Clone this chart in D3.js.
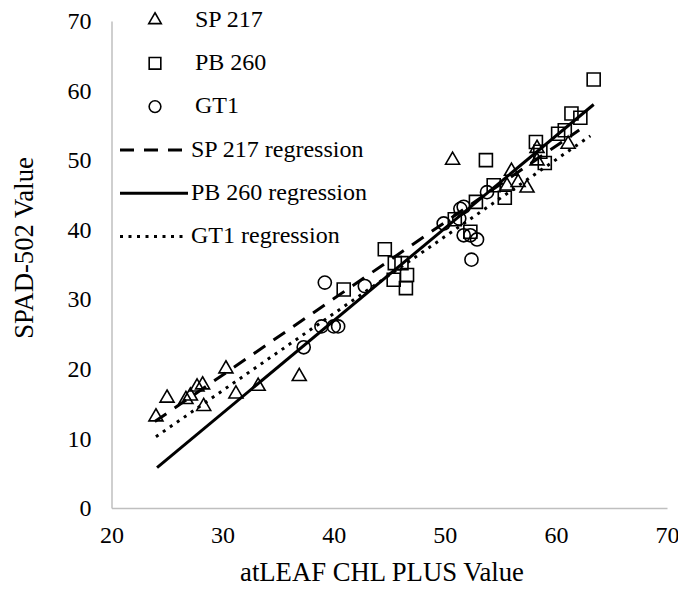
<!DOCTYPE html>
<html>
<head>
<meta charset="utf-8">
<script src="https://cdn.jsdelivr.net/npm/d3@7"></script>
<style>
	body { margin: 0; background: #fff; }
	svg, svg text { font-family: "Liberation Serif", "Times New Roman", Tinos, "DejaVu Serif", serif !important; }
	svg { display: block; }
</style>
</head>
<body>
<div id="chart"><svg width="678" height="596"></svg></div>
<script>
// atLEAF vs SPAD readings, one array of [x, y] per clone
var sp217 = [
	[24.0, 13.1], [25.0, 15.8], [26.7, 15.6], [27.1, 16.1], [27.7, 17.4],
	[28.2, 17.7], [28.3, 14.6], [30.3, 20.0], [31.2, 16.4], [33.2, 17.5],
	[36.9, 18.9], [50.7, 50.0], [55.6, 46.3], [56.0, 48.4], [56.6, 46.8],
	[57.4, 46.0], [58.3, 51.7], [58.3, 49.9], [61.1, 52.3]
];
var pb260 = [
	[40.9, 31.4], [44.6, 37.2], [45.4, 32.8], [45.5, 35.2], [46.1, 35.2],
	[46.6, 33.5], [46.5, 31.6], [52.3, 39.7], [50.9, 41.5], [52.8, 44.0],
	[53.7, 50.0], [54.4, 46.4], [55.4, 44.6], [58.2, 52.6], [58.6, 51.2],
	[59.0, 49.6], [60.2, 53.8], [60.8, 54.3], [61.4, 56.7], [62.2, 56.1],
	[63.4, 61.6]
];
var gt1 = [
	[37.3, 23.1], [38.9, 26.1], [40.0, 26.1], [40.4, 26.1], [39.2, 32.4],
	[42.8, 31.9], [49.9, 40.9], [51.4, 43.0], [51.7, 43.3], [51.7, 39.2],
	[52.3, 39.2], [52.9, 38.6], [52.4, 35.7], [53.8, 45.4], [51.3, 41.6]
];

// fitted lines
var regNames = ['SP 217 regression', 'PB 260 regression', 'GT1 regression'];
var regSlope = [1.097, 1.328, 1.106];
var regIntercept = [-13.8, -26.2, -16.3];
var regXMin = [23.9, 24.1, 24.0];
var regXMax = [62.1, 63.4, 63.1];
var regDash = ['14 10', null, '3 5.5'];

var seriesNames = ['SP 217', 'PB 260', 'GT1'];
var xTicks = [20, 30, 40, 50, 60, 70];
var yTicks = [0, 10, 20, 30, 40, 50, 60, 70];

var svg = d3.select('#chart > svg');
var xScale = d3.scaleLinear().domain([20, 70]).range([111.5, 667]);
var yScale = d3.scaleLinear().domain([0, 70]).range([508, 21]);

// axes
var xAxis = svg.append('g')
	.attr('class', 'x axis')
	.attr('transform', 'translate(0,' + yScale(0) + ')')
	.call(d3.axisBottom(xScale).tickValues(xTicks).tickSize(0).tickPadding(18));
var yAxis = svg.append('g')
	.attr('class', 'y axis')
	.attr('transform', 'translate(' + xScale(20) + ',0)')
	.call(d3.axisLeft(yScale).tickValues(yTicks).tickSize(0).tickPadding(20));

svg.selectAll('.axis').attr('font-family', null);
svg.selectAll('.axis .domain')
	.attr('stroke', '#bfbfbf')
	.attr('stroke-width', 1.5);
svg.selectAll('.axis text')
	.attr('font-size', 24)
	.attr('fill', '#000');

svg.append('text')
	.attr('x', 382)
	.attr('y', 581)
	.attr('text-anchor', 'middle')
	.attr('font-size', 26.7)
	.text('atLEAF CHL PLUS Value');
svg.append('text')
	.attr('transform', 'translate(33,248) rotate(-90)')
	.attr('text-anchor', 'middle')
	.attr('font-size', 26.7)
	.text('SPAD-502 Value');

// markers
var symbols = [d3.symbolTriangle, d3.symbolSquare, d3.symbolCircle];
var symbolSizes = [85, 169, 135];
var allSeries = [sp217, pb260, gt1];

var plot = svg.append('g').attr('class', 'plot');
allSeries.forEach(function(series, i) {
	plot.append('g').selectAll('path')
		.data(series)
		.enter()
		.append('path')
		.attr('d', d3.symbol().type(symbols[i]).size(symbolSizes[i]))
		.attr('transform', function(d) { return 'translate(' + xScale(d[0]) + ',' + yScale(d[1]) + ')' })
		.attr('fill', 'none')
		.attr('stroke', '#000')
		.attr('stroke-width', 1.6);
});

// regression lines
var lines = svg.append('g').attr('class', 'lines');
regNames.forEach(function(name, i) {
	var pts = [regXMin[i], regXMax[i]].map(function(x) { return [x, regSlope[i] * x + regIntercept[i]] });
	lines.append('path')
		.attr('d', d3.line().x(function(d) { return xScale(d[0]) }).y(function(d) { return yScale(d[1]) })(pts))
		.attr('fill', 'none')
		.attr('stroke', '#000')
		.attr('stroke-width', 3)
		.attr('stroke-dasharray', regDash[i]);
});

// legend
var legend = svg.append('g').attr('class', 'legend');
var rowY = function(i) { return 19 + i * 43.3 };
seriesNames.forEach(function(name, i) {
	legend.append('path')
		.attr('d', d3.symbol().type(symbols[i]).size(symbolSizes[i] * 0.8))
		.attr('transform', 'translate(155,' + (rowY(i) + 1) + ')')
		.attr('fill', 'none')
		.attr('stroke', '#000')
		.attr('stroke-width', 1.6);
	legend.append('text')
		.attr('x', 195)
		.attr('y', rowY(i))
		.attr('dy', '0.32em')
		.attr('font-size', 24)
		.text(name);
});
regNames.forEach(function(name, i) {
	var y = rowY(i + 3);
	legend.append('line')
		.attr('x1', 120).attr('x2', 188)
		.attr('y1', y + 1).attr('y2', y + 1)
		.attr('stroke', '#000')
		.attr('stroke-width', 3)
		.attr('stroke-dasharray', regDash[i]);
	legend.append('text')
		.attr('x', 191)
		.attr('y', y)
		.attr('dy', '0.32em')
		.attr('font-size', 24)
		.text(name);
});
</script>
</body>
</html>
